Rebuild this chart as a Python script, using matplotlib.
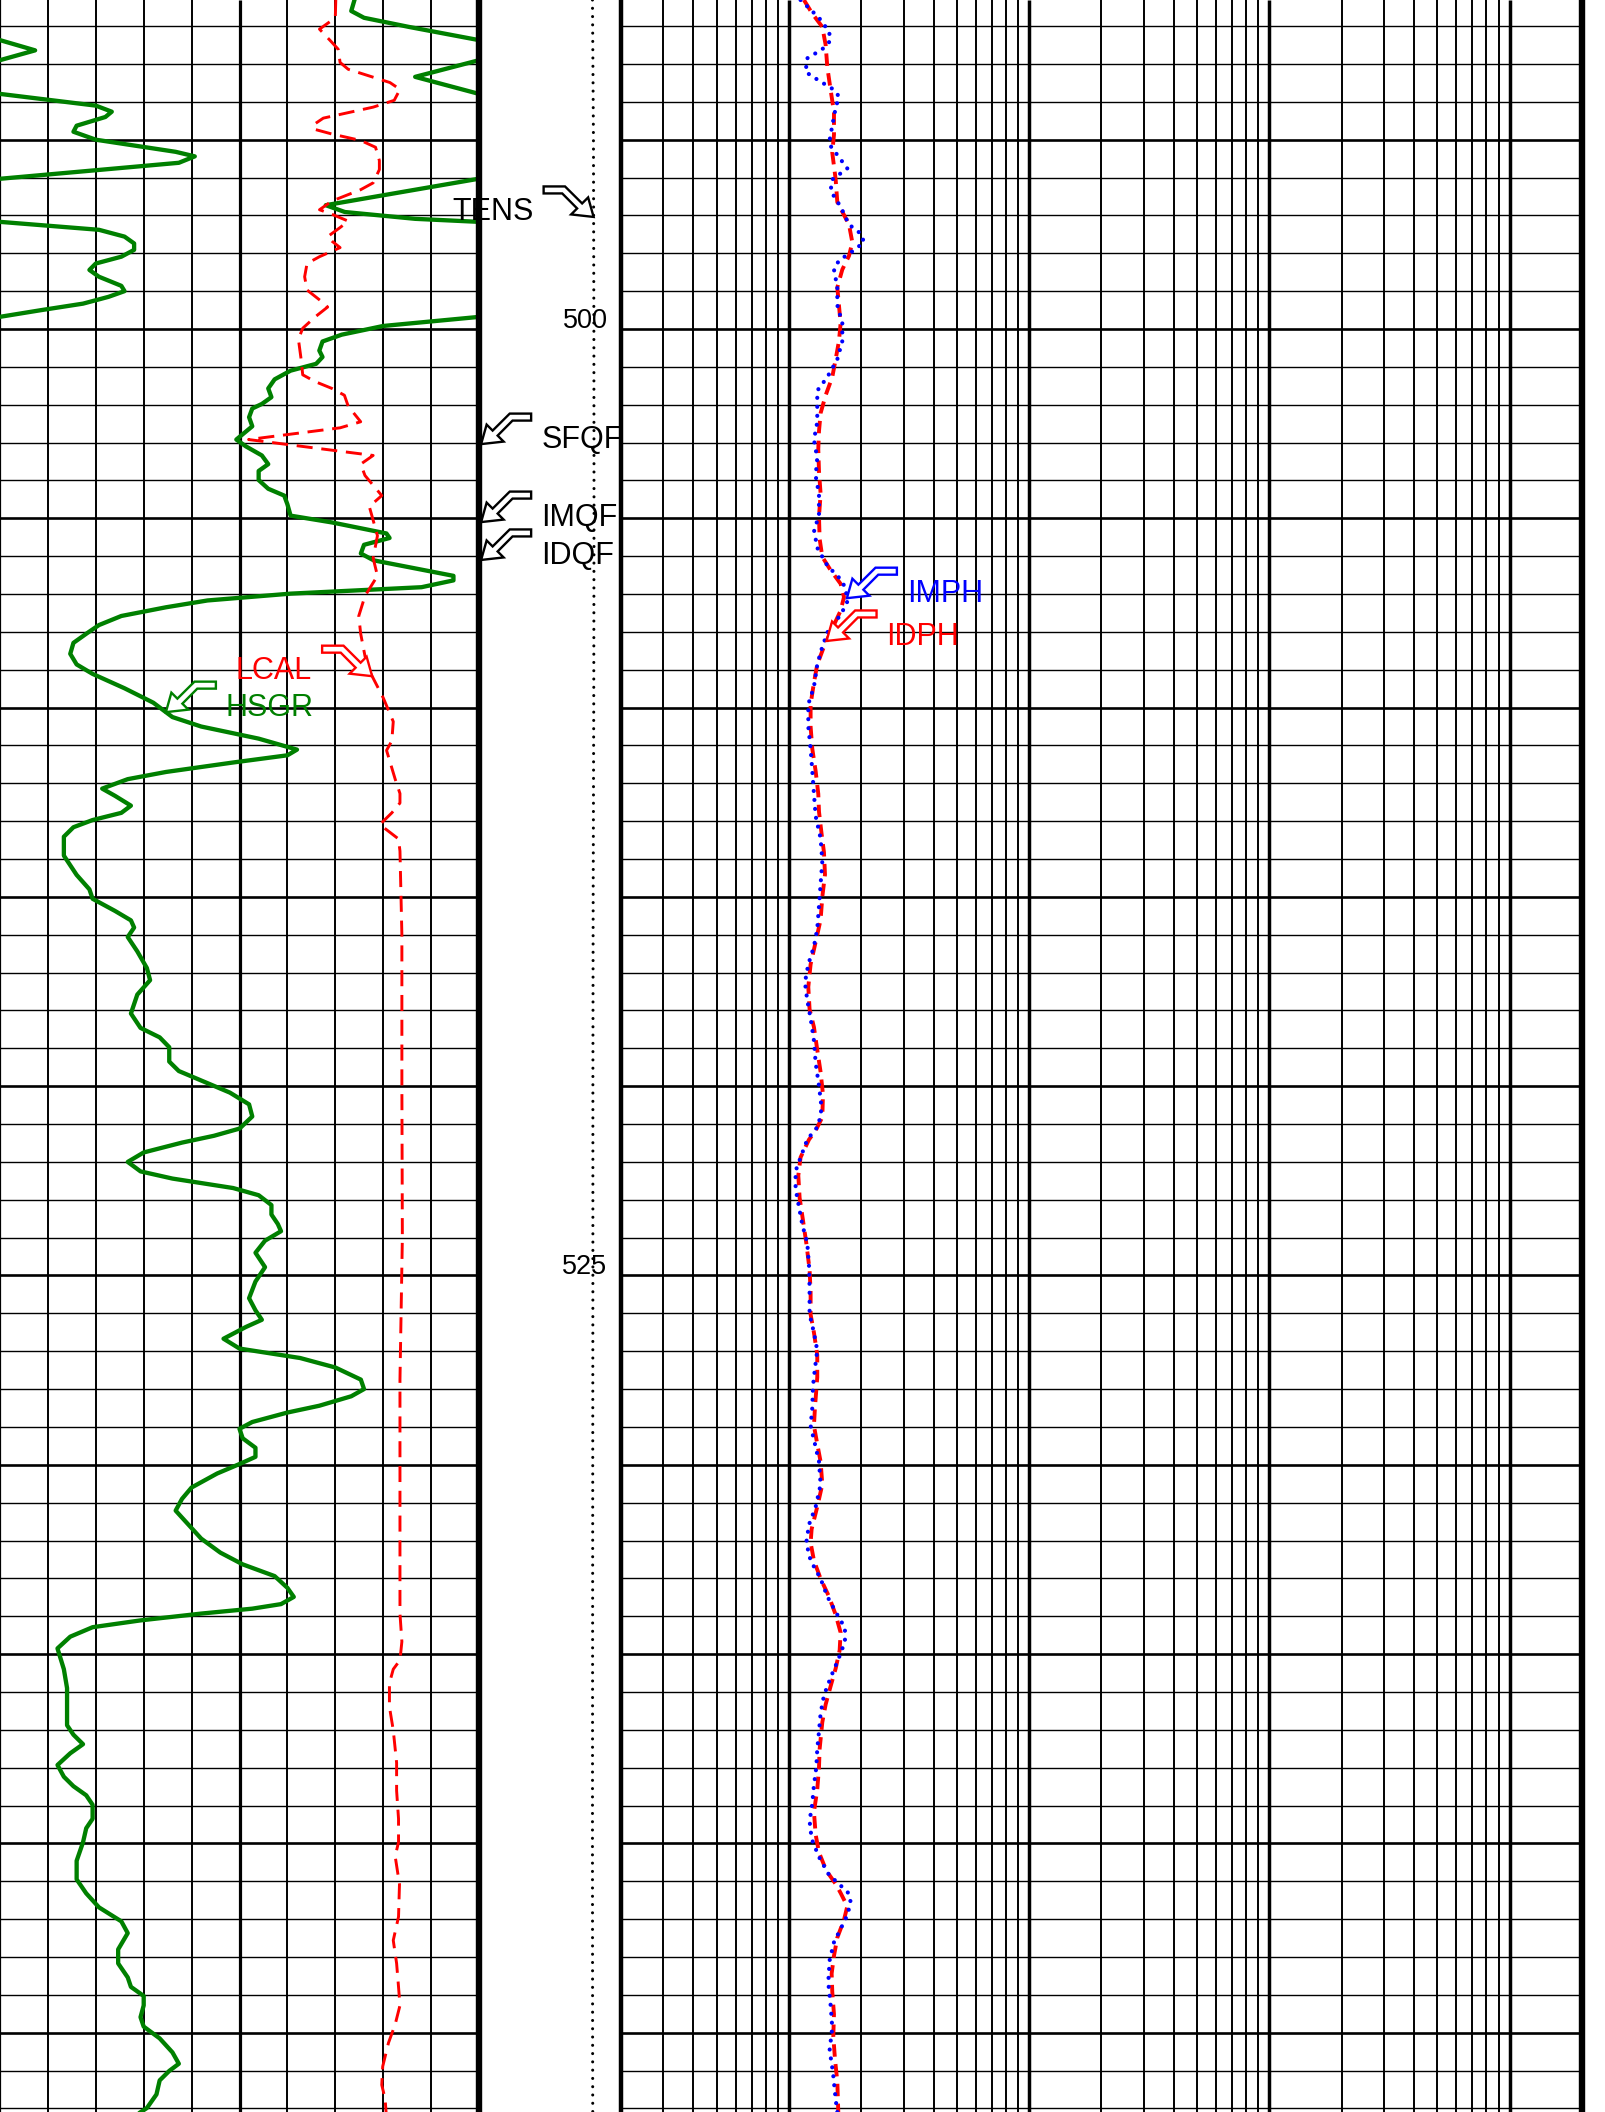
import numpy as np
import matplotlib
matplotlib.use("Agg")
import matplotlib.pyplot as plt
import matplotlib.transforms as mtransforms
from matplotlib.patches import Polygon

plt.rcParams['font.family'] = ['Liberation Sans', 'DejaVu Sans']

# ------------------------------------------------------------------ data
DEPTH_TOP = 491.31
DEPTH_BOTTOM = 547.095
DEPTH_LABELS = [500, 525]

GR_SCALE = (0, 150)        # gAPI
CAL_SCALE = (6, 16)        # in
TENS_SCALE = (0, 10000)    # lbf
RES_SCALE = (0.2, 2000)    # ohm.m

HSGR_DEPTH = [491.31, 491.60, 491.78, 492.02, 492.37, 492.64, 492.90, 493.34, 493.79, 494.10,
              494.26, 494.40, 494.63, 494.79, 495.00, 495.32, 495.44, 495.61, 496.03, 496.73,
              496.91, 497.09, 497.17, 497.38, 497.56, 497.74, 497.91, 498.09, 498.27, 498.44,
              498.62, 498.86, 499.00, 499.15, 499.33, 499.50, 499.68, 499.92, 500.15, 500.33,
              500.57, 500.74, 500.92, 501.10, 501.33, 501.57, 501.80, 501.98, 502.10, 502.33,
              502.57, 502.92, 503.10, 503.34, 503.57, 503.75, 503.99, 504.22, 504.40, 504.63,
              504.93, 505.11, 505.40, 505.52, 505.70, 505.93, 506.11, 506.52, 506.64, 506.82,
              506.99, 507.17, 507.35, 507.58, 507.82, 508.05, 508.29, 508.58, 508.86, 509.11,
              509.49, 509.87, 510.25, 510.50, 510.82, 511.11, 511.26, 511.45, 511.70, 511.89,
              512.14, 512.33, 512.59, 512.78, 512.97, 513.16, 513.41, 513.91, 514.42, 514.80,
              515.05, 515.37, 515.62, 515.81, 516.06, 516.44, 516.88, 517.20, 517.58, 518.08,
              518.46, 518.71, 518.97, 519.35, 519.60, 519.85, 520.17, 520.48, 520.80, 521.12,
              521.31, 521.49, 521.75, 522.00, 522.25, 522.44, 522.69, 522.88, 523.14, 523.39,
              523.64, 523.83, 524.08, 524.40, 524.78, 525.16, 525.60, 525.92, 526.17, 526.36,
              526.67, 526.93, 527.18, 527.43, 527.75, 528.00, 528.19, 528.44, 528.62, 528.87,
              529.05, 529.30, 529.55, 529.79, 529.98, 530.23, 530.60, 530.90, 531.21, 531.58,
              531.95, 532.32, 532.63, 532.94, 533.25, 533.49, 533.68, 533.80, 533.93, 534.11,
              534.29, 534.54, 534.85, 535.40, 535.90, 536.39, 536.88, 537.13, 537.38, 537.62,
              537.93, 538.24, 538.49, 538.73, 538.98, 539.35, 539.60, 539.97, 540.46, 540.95,
              541.32, 541.69, 542.06, 542.37, 542.80, 543.17, 543.54, 543.79, 544.03, 544.28,
              544.59, 544.84, 545.15, 545.52, 545.82, 546.01, 546.26, 546.63, 546.99, 547.10]
HSGR = [111, 110, 114, 128, 150, 161, 150, 130, 150, 180,
        185, 183, 174, 173, 180, 205, 211, 206, 150, 102,
        108, 130, 150, 181, 189, 192, 192, 188, 180, 178,
        181, 188, 189, 184, 176, 163, 150, 120, 107, 101,
        100, 101, 99, 91, 86, 84, 85, 82, 79, 78,
        79, 74, 77, 82, 84, 81, 81, 84, 89, 90,
        91, 104, 121, 122, 114, 113, 117, 142, 142, 132,
        91, 65, 52, 38, 31, 27, 23, 22, 24, 29,
        39, 48, 54, 63, 81, 93, 90, 73, 52, 40,
        32, 36, 41, 38, 29, 23, 20, 20, 24, 28,
        29, 36, 41, 42, 40, 43, 46, 47, 43, 41,
        44, 50, 53, 53, 56, 63, 72, 78, 79, 75,
        67, 57, 45, 40, 44, 54, 73, 81, 85, 85,
        87, 88, 83, 80, 83, 80, 78, 80, 82, 77,
        70, 75, 94, 105, 113, 114, 110, 100, 90, 79,
        75, 76, 80, 80, 75, 68, 60, 57, 55, 59,
        63, 69, 76, 86, 90, 92, 88, 79, 63, 44,
        29, 22, 18, 20, 21, 21, 21, 23, 26, 22,
        18, 20, 23, 27, 29, 29, 27, 26, 24, 24,
        27, 31, 38, 40, 37, 37, 40, 41, 45, 45,
        44, 45, 50, 54, 56, 53, 50, 49, 46, 44]

LCAL_DEPTH = [491.31, 491.78, 492.08, 492.43, 492.61, 492.96, 493.14, 493.49, 493.67, 493.96,
              494.14, 494.43, 494.61, 494.73, 494.85, 495.02, 495.20, 495.55, 495.79, 496.14,
              496.32, 496.62, 496.85, 496.97, 497.15, 497.32, 497.56, 497.68, 497.85, 498.09,
              498.27, 498.62, 498.97, 499.27, 499.42, 499.68, 499.98, 500.27, 500.74, 501.21,
              501.39, 501.57, 501.75, 502.04, 502.45, 502.61, 502.92, 503.34, 503.57, 503.87,
              504.40, 504.69, 505.05, 505.46, 506.05, 506.52, 507.05, 507.58, 508.05, 508.64,
              509.00, 509.74, 510.37, 510.88, 511.13, 511.89, 512.27, 512.52, 512.78, 513.09,
              513.47, 513.79, 516.00, 520.00, 524.00, 527.76, 533.93, 534.67, 535.16, 535.40,
              535.77, 536.39, 537.01, 537.87, 538.61, 539.35, 539.97, 540.34, 541.08, 541.94,
              542.56, 543.17, 543.79, 544.28, 544.78, 545.27, 545.89, 546.38, 546.75, 547.10]
LCAL = [13.01, 13.00, 12.67, 12.93, 13.06, 13.10, 13.27, 14.14, 14.35, 14.23,
        13.79, 12.75, 12.54, 12.58, 12.93, 13.53, 13.84, 13.92, 13.92, 13.79,
        13.53, 12.93, 12.67, 12.93, 13.27, 13.10, 12.84, 12.93, 13.10, 12.67,
        12.41, 12.36, 12.41, 12.71, 12.84, 12.58, 12.32, 12.23, 12.28, 12.32,
        12.58, 12.93, 13.19, 13.27, 13.53, 13.10, 11.19, 13.79, 13.53, 13.62,
        13.97, 13.71, 13.79, 13.88, 13.79, 13.88, 13.62, 13.49, 13.53, 13.62,
        13.70, 14.00, 14.21, 14.18, 14.07, 14.25, 14.35, 14.35, 14.18, 13.93,
        14.32, 14.35, 14.39, 14.39, 14.40, 14.35, 14.35, 14.39, 14.35, 14.21,
        14.13, 14.13, 14.21, 14.28, 14.28, 14.32, 14.32, 14.25, 14.34, 14.32,
        14.21, 14.28, 14.32, 14.35, 14.25, 14.11, 13.99, 13.97, 14.04, 14.06]

TENS_DEPTH = [491.31, 495.0, 500.0, 505.0, 510.0, 515.0, 520.0, 525.0, 530.0, 535.0,
              540.0, 545.0, 547.10]
TENS = [7990, 8060, 8090, 8100, 8080, 8040, 8020, 8020, 8010, 8000, 7990, 8000, 8010]

IDPH_DEPTH = [491.31, 491.67, 492.02, 492.50, 493.09, 493.68, 494.27, 494.87, 495.34, 496.05,
              496.65, 497.24, 497.71, 498.07, 498.43, 498.90, 499.37, 499.85, 500.32, 500.80,
              501.27, 501.75, 502.22, 502.70, 503.17, 503.76, 504.36, 504.95, 505.54, 506.02,
              506.37, 506.73, 507.08, 507.44, 507.91, 508.39, 508.86, 509.34,
              509.91, 510.50, 511.09, 511.68, 512.28, 512.75, 513.34, 513.82, 514.41, 515.00,
              515.60, 516.19, 516.78, 517.38, 517.97, 518.44, 519.04, 519.63, 520.22, 520.82,
              521.17, 521.41, 521.88, 522.36, 522.95, 523.54, 524.14, 524.85, 525.44, 526.03,
              526.51, 527.10, 527.69,
              528.50, 528.97, 529.45, 529.92, 530.52, 531.11, 531.70, 532.06, 532.53, 533.01,
              533.48, 533.96, 534.43, 534.90, 535.38, 535.85, 536.33, 536.80, 537.51, 537.99,
              538.58, 539.17, 539.77, 540.24, 540.72, 541.07, 541.31, 541.66, 542.02, 542.49,
              542.97, 543.44, 543.92, 544.51, 545.10, 545.70, 546.29, 547.10]
IDPH = [1.155, 1.251, 1.377, 1.422, 1.445, 1.491, 1.540, 1.540, 1.515, 1.565,
        1.590, 1.778, 1.836, 1.778, 1.668, 1.590, 1.615, 1.641, 1.615, 1.565,
        1.515, 1.422, 1.355, 1.334, 1.325, 1.334, 1.355, 1.334, 1.342, 1.377,
        1.491, 1.641, 1.695, 1.641, 1.515, 1.399, 1.312, 1.271,
        1.231, 1.231, 1.251, 1.292, 1.325, 1.334, 1.368, 1.399, 1.413, 1.377,
        1.355, 1.292, 1.231, 1.204, 1.219, 1.271, 1.312, 1.355, 1.386, 1.377,
        1.292, 1.212, 1.118, 1.094, 1.108, 1.144, 1.181, 1.219, 1.231, 1.231,
        1.271, 1.312, 1.312,
        1.283, 1.271, 1.312, 1.355, 1.377, 1.312, 1.243, 1.231, 1.271, 1.355,
        1.468, 1.565, 1.641, 1.626, 1.565, 1.491, 1.422, 1.377, 1.342, 1.334,
        1.312, 1.271, 1.292, 1.334, 1.431, 1.565, 1.641, 1.750, 1.695, 1.590,
        1.540, 1.506, 1.515, 1.540, 1.530, 1.555, 1.590, 1.605]

IMPH_DEPTH = [491.31, 491.78, 492.14, 492.38, 492.61, 492.85, 493.21, 493.44, 493.68, 493.86,
              494.16, 494.63, 495.11, 495.46, 495.76, 496.05, 496.35, 496.77, 497.24, 497.48,
              497.71, 497.95, 498.19, 498.43, 498.90, 499.37, 499.85, 500.32, 500.80, 501.27,
              501.63, 501.98, 502.46, 502.93, 503.41, 503.88, 504.36, 504.95, 505.30, 505.78,
              506.25, 506.61, 506.85, 507.20, 507.56, 507.91, 508.39, 508.86, 509.45,
              509.91, 510.50, 511.09, 511.68, 512.28, 512.87, 513.46, 514.06, 514.65, 515.24,
              515.84, 516.31, 516.78, 517.26, 517.73, 518.21, 518.80, 519.39, 519.99, 520.58,
              521.05, 521.41, 521.76, 522.24, 522.71, 523.19, 523.66, 524.14, 524.73, 525.32,
              526.03, 526.51, 526.98, 527.46, 527.93,
              528.50, 528.97, 529.45, 529.92, 530.52, 531.11, 531.58, 532.06, 532.53, 533.01,
              533.48, 533.96, 534.31, 534.67, 535.14, 535.62, 536.09, 536.56, 537.04, 537.51,
              537.99, 538.46, 538.94, 539.41, 539.88, 540.36, 540.83, 541.07, 541.31, 541.55,
              541.90, 542.26, 542.61, 543.09, 543.68, 544.27, 544.87, 545.46, 546.05, 546.76,
              547.10]
IMPH = [1.118, 1.334, 1.468, 1.491, 1.377, 1.192, 1.173, 1.334, 1.540, 1.615,
        1.565, 1.515, 1.468, 1.615, 1.750, 1.515, 1.491, 1.641, 1.778, 1.989,
        2.054, 1.836, 1.615, 1.540, 1.590, 1.590, 1.668, 1.668, 1.590, 1.445,
        1.312, 1.312, 1.312, 1.271, 1.312, 1.292, 1.334, 1.334, 1.271, 1.312,
        1.445, 1.641, 1.722, 1.750, 1.641, 1.468, 1.377, 1.312, 1.271,
        1.204, 1.204, 1.231, 1.251, 1.271, 1.292, 1.355, 1.377, 1.355, 1.334,
        1.312, 1.271, 1.204, 1.166, 1.192, 1.231, 1.271, 1.292, 1.334, 1.368,
        1.325, 1.192, 1.137, 1.066, 1.066, 1.101, 1.137, 1.192, 1.212, 1.219,
        1.219, 1.271, 1.312, 1.283, 1.259,
        1.251, 1.231, 1.283, 1.334, 1.355, 1.292, 1.212, 1.181, 1.231, 1.355,
        1.445, 1.590, 1.711, 1.711, 1.605, 1.491, 1.399, 1.355, 1.334, 1.312,
        1.300, 1.271, 1.251, 1.219, 1.243, 1.334, 1.468, 1.615, 1.767, 1.807,
        1.750, 1.641, 1.540, 1.477, 1.458, 1.491, 1.515, 1.477, 1.525, 1.565,
        1.590]

# curve flags: label, curve name, depth of arrow tip, colour, side of the tail
FLAGS = [("TENS", "TENS", 497.04, "black", "left"),
         ("SFQF", "QF", 503.04, "black", "right"),
         ("IMQF", "QF", 505.10, "black", "right"),
         ("IDQF", "QF", 506.10, "black", "right"),
         ("LCAL", "LCAL", 509.17, "red", "left"),
         ("HSGR", "HSGR", 510.12, "green", "right"),
         ("IMPH", "IMPH", 507.11, "blue", "right"),
         ("IDPH", "IDPH", 508.24, "red", "right")]

# ------------------------------------------------------------------ figure
W, H = 1606, 2112
DPI = 100
fig = plt.figure(figsize=(W / DPI, H / DPI), dpi=DPI)
fig.patch.set_facecolor("white")

X_LEFT_END = 479
X_DEPTH_END = 621
X_RIGHT_END = 1582

ax_gr = fig.add_axes([0, 0, X_LEFT_END / W, 1])
ax_cal = ax_gr.twiny()
ax_d = fig.add_axes([X_LEFT_END / W, 0, (X_DEPTH_END - X_LEFT_END) / W, 1])
ax_r = fig.add_axes([X_DEPTH_END / W, 0, (X_RIGHT_END - X_DEPTH_END) / W, 1])

for a in (ax_gr, ax_cal, ax_d, ax_r):
    a.set_facecolor("none")
    for s in a.spines.values():
        s.set_visible(False)
    a.tick_params(left=False, bottom=False, top=False, right=False,
                  labelleft=False, labelbottom=False, labeltop=False, labelright=False)

ax_r.set_xscale("log")

# ---- grids
depth_lines = np.arange(int(np.ceil(DEPTH_TOP)), int(DEPTH_BOTTOM) + 1)
thin_d = [d for d in depth_lines if d % 5 != 0]
heavy_d = [d for d in depth_lines if d % 5 == 0]

for a, lo, hi in ((ax_gr, GR_SCALE[0], GR_SCALE[1]), (ax_r, RES_SCALE[0], RES_SCALE[1])):
    a.hlines(thin_d, lo, hi, colors="black", lw=1.0, zorder=1)
    a.hlines(heavy_d, lo, hi, colors="black", lw=1.9, zorder=1)

gr_step = (GR_SCALE[1] - GR_SCALE[0]) / 10.0
gr_lines = GR_SCALE[0] + gr_step * np.arange(11)
ax_gr.vlines(gr_lines[1:5], DEPTH_BOTTOM, DEPTH_TOP, colors="black", lw=1.4, zorder=1)
ax_gr.vlines(gr_lines[6:10], DEPTH_BOTTOM, DEPTH_TOP, colors="black", lw=1.4, zorder=1)
ax_gr.vlines([gr_lines[5]], DEPTH_BOTTOM, DEPTH_TOP, colors="black", lw=2.3, zorder=2)
ax_gr.vlines([gr_lines[0]], DEPTH_BOTTOM, DEPTH_TOP, colors="black", lw=1.6, zorder=2, clip_on=False)
ax_gr.vlines([gr_lines[10]], DEPTH_BOTTOM, DEPTH_TOP, colors="black", lw=4.6, zorder=4, clip_on=False)

decades = [0.1, 1, 10, 100, 1000]
minor = [d * k for d in decades for k in range(2, 10)
         if RES_SCALE[0] < d * k < RES_SCALE[1]]
ax_r.vlines(minor, DEPTH_BOTTOM, DEPTH_TOP, colors="black", lw=1.4, zorder=1)
ax_r.vlines([d for d in decades if RES_SCALE[0] < d < RES_SCALE[1]],
            DEPTH_BOTTOM, DEPTH_TOP, colors="black", lw=2.5, zorder=2)
ax_r.vlines([RES_SCALE[0]], DEPTH_BOTTOM, DEPTH_TOP, colors="black", lw=3.2, zorder=4, clip_on=False)
ax_r.vlines([RES_SCALE[1]], DEPTH_BOTTOM, DEPTH_TOP, colors="black", lw=4.6, zorder=4, clip_on=False)

# ---- curves
hsgr = np.array(HSGR, dtype=float)
ax_gr.plot(hsgr, HSGR_DEPTH, color="#008000", lw=3.1, solid_joinstyle="round", zorder=3)
# wrapped (backup) trace for values beyond the scale
ax_gr.plot(hsgr - (GR_SCALE[1] - GR_SCALE[0]), HSGR_DEPTH, color="#008000", lw=3.1,
           solid_joinstyle="round", zorder=3)

ax_cal.plot(LCAL, LCAL_DEPTH, color="red", lw=2.1, dashes=(5.5, 3.0), zorder=3)

ax_d.plot(TENS, TENS_DEPTH, color="black", lw=2.2, dashes=(0.01, 2.7),
          dash_capstyle="round", zorder=3)

ax_r.plot(IDPH, IDPH_DEPTH, color="red", lw=2.8, dashes=(3.2, 1.9), zorder=3)
ax_r.plot(IMPH, IMPH_DEPTH, color="blue", lw=3.0, dashes=(0.01, 2.15),
          dash_capstyle="round", zorder=3)

# ---- depth labels
for d in DEPTH_LABELS:
    ax_d.annotate(str(d), xy=(0.905, d), xycoords=ax_d.get_yaxis_transform(),
                  xytext=(0, 0.8), textcoords="offset points", ha="right", va="baseline",
                  fontsize=19.5, color="black", annotation_clip=False, zorder=5)

# ---- flags (hollow bent arrows)
SHAPE = np.array([(-50, 30.5), (-28.6, 30.5), (-11.5, 13.5), (-5.5, 19.5), (0, 0),
                  (-22.5, 2.5), (-16.5, 8.5), (-31.4, 23.5), (-50, 23.5)])

curves = {"HSGR": (ax_gr, HSGR_DEPTH, HSGR), "LCAL": (ax_cal, LCAL_DEPTH, LCAL),
          "TENS": (ax_d, TENS_DEPTH, TENS), "IDPH": (ax_r, IDPH_DEPTH, IDPH),
          "IMPH": (ax_r, IMPH_DEPTH, IMPH)}

for label, cname, depth, color, side in FLAGS:
    if cname == "QF":
        ax = ax_d
        coords = ax_d.get_yaxis_transform()
        x = 0.015
    else:
        ax, dd, vv = curves[cname]
        coords = ax.transData
        if ax is ax_r:
            x = 10 ** np.interp(depth, dd, np.log10(vv))
        else:
            x = np.interp(depth, dd, vv)
    verts = SHAPE.copy()
    if side == "right":
        verts[:, 0] *= -1
    trans = mtransforms.Affine2D() + mtransforms.ScaledTranslation(x, depth, coords)
    poly = Polygon(verts, closed=True, transform=trans, facecolor="white",
                   edgecolor=color, lw=1.7, joinstyle="miter", clip_on=False, zorder=6)
    ax.add_artist(poly)
    if side == "right":
        off, ha = (60 * 72 / DPI, -4 * 72 / DPI), "left"
    else:
        off, ha = (-60 * 72 / DPI, -3 * 72 / DPI), "right"
    ax.annotate(label, xy=(x, depth), xycoords=coords, xytext=off,
                textcoords="offset points", ha=ha, va="baseline", fontsize=22,
                color=color, annotation_clip=False, zorder=7)

# ---- limits
ax_gr.set_xlim(*GR_SCALE)
ax_cal.set_xlim(*CAL_SCALE)
ax_d.set_xlim(*TENS_SCALE)
ax_r.set_xlim(*RES_SCALE)
for a in (ax_gr, ax_cal, ax_d, ax_r):
    a.set_ylim(DEPTH_BOTTOM, DEPTH_TOP)

fig.savefig("out.png", dpi=DPI, facecolor="white")
